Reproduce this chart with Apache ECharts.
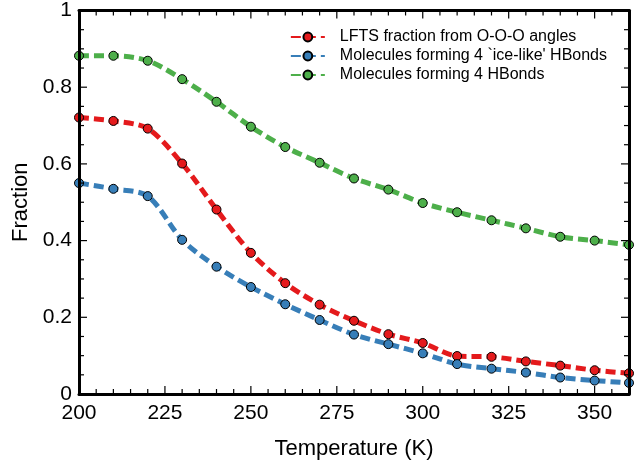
<!DOCTYPE html>
<html><head><meta charset="utf-8">
<script src="https://cdn.jsdelivr.net/npm/echarts@6/dist/echarts.min.js"></script>
<style>html,body{margin:0;padding:0;background:#fff}#c{width:644px;height:465px}</style>
</head><body><div id="c"></div>
<script>
const temperatures = [200,210,220,230,240,250,260,270,280,290,300,310,320,330,340,350,360];
const lftsFraction = [0.721,0.712,0.692,0.601,0.481,0.368,0.289,0.233,0.191,0.156,0.133,0.099,0.097,0.085,0.074,0.062,0.054];
const iceLikeHB = [0.550,0.535,0.516,0.402,0.332,0.279,0.234,0.193,0.155,0.130,0.106,0.078,0.066,0.056,0.043,0.035,0.029];
const fourHB = [0.882,0.882,0.869,0.821,0.762,0.697,0.644,0.603,0.562,0.533,0.498,0.474,0.453,0.432,0.410,0.400,0.389];
const seriesNames = ["LFTS fraction from O-O-O angles","Molecules forming 4 `ice-like' HBonds","Molecules forming 4 HBonds"];
const colors = ['#e41a1c','#377eb8','#4daf4a'];
const xTicks = [200,225,250,275,300,325,350];
const yTicks = [0,0.2,0.4,0.6,0.8,1];

const X_MIN = 200, X_MAX = 360, Y_MIN = 0, Y_MAX = 1;
const font = 'Liberation Sans, Arial, Helvetica, sans-serif';
function pairs(v){ return temperatures.map((t,i)=>[t,v[i]]); }
function mk(name, data, color){
  return {
    name, type:'line', data: pairs(data), smooth:0.3,
    symbol:'circle', symbolSize:9, showSymbol:true,
    itemStyle:{color, borderColor:'#000', borderWidth:1},
    lineStyle:{color, width:5, type:[10,5]},
    z:3
  };
}
function axisBase(){
  return {
    gridIndex:0,
    axisLine:{show:true, onZero:false, lineStyle:{color:'#000', width:3}},
    axisTick:{show:false}, minorTick:{show:false},
    splitLine:{show:false}, minorSplitLine:{show:false}, z:10
  };
}
const chart = echarts.init(document.getElementById('c'));
chart.setOption({
  animation:false,
  grid:[{left:79, right:15, top:8, bottom:68}],
  legend:{
    right:32, top:24, orient:'vertical', itemGap:3, itemWidth:34, itemHeight:11,
    textStyle:{fontFamily:font, fontSize:16, color:'#000', padding:[0,0,0,10]},
    data: seriesNames
  },
  xAxis:[
    Object.assign(axisBase(), {type:'value', min:X_MIN, max:X_MAX, interval:25, position:'bottom',
      name:'Temperature (K)', nameLocation:'middle', nameGap:44,
      nameTextStyle:{fontFamily:font, fontSize:22, color:'#000'},
      axisLabel:{fontFamily:font, fontSize:21, color:'#000', margin:9, showMaxLabel:false}}),
    Object.assign(axisBase(), {type:'value', min:X_MIN, max:X_MAX, interval:25, position:'top',
      axisLabel:{show:false}})
  ],
  yAxis:[
    Object.assign(axisBase(), {type:'value', min:Y_MIN, max:Y_MAX, interval:0.2, position:'left',
      name:'Fraction', nameLocation:'middle', nameGap:46,
      nameTextStyle:{fontFamily:font, fontSize:22, color:'#000'},
      axisLabel:{fontFamily:font, fontSize:21, color:'#000', margin:7,
        formatter:v=>String(Math.round(v*10)/10)}}),
    Object.assign(axisBase(), {type:'value', min:Y_MIN, max:Y_MAX, interval:0.2, position:'right',
      axisLabel:{show:false}})
  ],
  series:[
    mk(seriesNames[0], lftsFraction, colors[0]),
    mk(seriesNames[1], iceLikeHB, colors[1]),
    mk(seriesNames[2], fourHB, colors[2])
  ]
});

// inward tick marks on all four sides, placed through the chart's own scales
const tickEls = [];
const st = {stroke:'#000', lineWidth:1.2};
function px(x, y){ return chart.convertToPixel({gridIndex:0}, [x, y]); }
for (let x = X_MIN + 5; x < X_MAX; x += 5) {
  const len = ((x - X_MIN) % 25 === 0) ? 8 : 5;
  const b = px(x, Y_MIN), t = px(x, Y_MAX);
  tickEls.push({type:'line', z:20, silent:true, shape:{x1:b[0], y1:b[1], x2:b[0], y2:b[1]-len}, style:st});
  tickEls.push({type:'line', z:20, silent:true, shape:{x1:t[0], y1:t[1], x2:t[0], y2:t[1]+len}, style:st});
}
for (let k = 1; k < 20; k++) {
  const y = k * 0.05;
  const len = (k % 4 === 0) ? 8 : 5;
  const l = px(X_MIN, y), r = px(X_MAX, y);
  tickEls.push({type:'line', z:20, silent:true, shape:{x1:l[0], y1:l[1], x2:l[0]+len, y2:l[1]}, style:st});
  tickEls.push({type:'line', z:20, silent:true, shape:{x1:r[0], y1:r[1], x2:r[0]-len, y2:r[1]}, style:st});
}
chart.setOption({graphic:{elements: tickEls}});
</script></body></html>
